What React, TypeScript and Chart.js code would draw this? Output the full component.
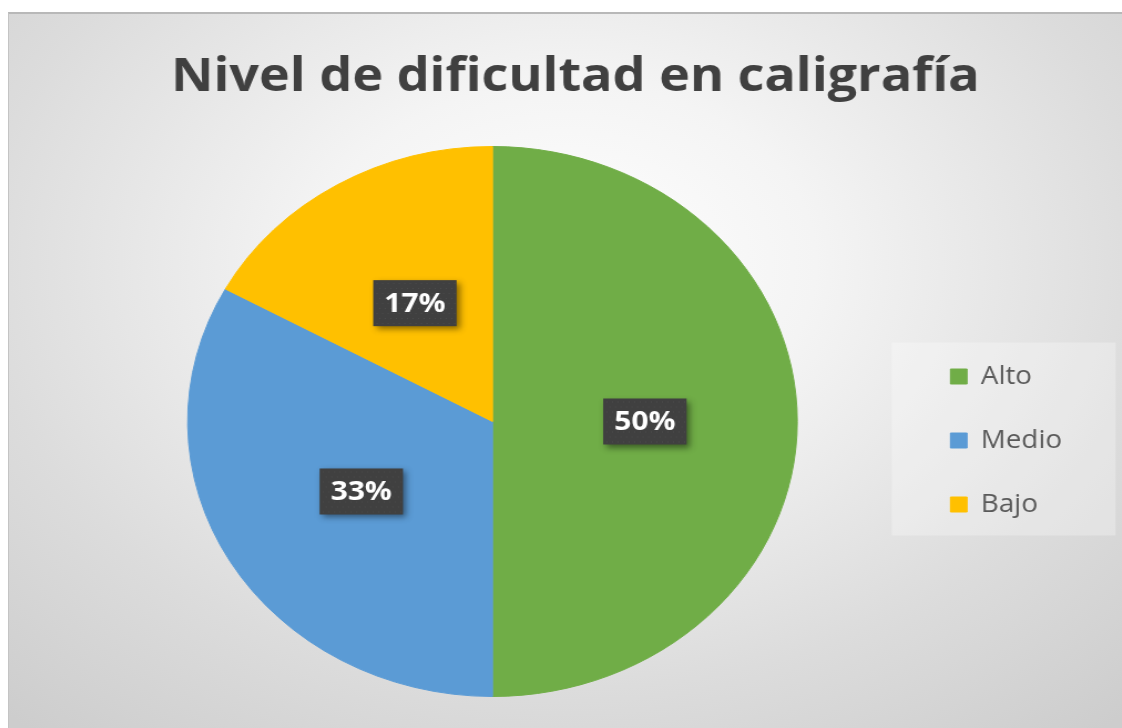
import React, { useEffect, useRef } from "react";
import { Chart, registerables } from "chart.js";

Chart.register(...registerables);

const titleText = "Nivel de dificultad en caligrafía";
const categories = ["Alto", "Medio", "Bajo"];
const values = [50, 33, 17];
const colors = ["#70AD47", "#5B9BD5", "#FFC000"];

const CANVAS_W = 1005;
const CANVAS_H = 716;
const PANEL_W = 1114;
const FONT = "'Open Sans', 'Noto Sans', sans-serif";

const legendBoxPlugin = {
  id: "legendBox",
  beforeDraw(chart: any) {
    const lg = chart.legend;
    if (!lg || !lg.legendHitBoxes || !lg.legendHitBoxes.length) return;
    const hb = lg.legendHitBoxes;
    const first = hb[0];
    const last = hb[hb.length - 1];
    const c0 = first.top + first.height / 2;
    const c2 = last.top + last.height / 2;
    const left = first.left - 53;
    const top = c0 - 34;
    const bottom = c2 + 31;
    const ctx = chart.ctx;
    ctx.save();
    ctx.fillStyle = "rgba(255,255,255,0.28)";
    ctx.fillRect(left, top, 202, bottom - top);
    ctx.restore();
  },
};

const labelPlugin = {
  id: "boxLabels",
  afterDatasetsDraw(chart: any) {
    const ctx = chart.ctx;
    const meta = chart.getDatasetMeta(0);
    const ds = chart.data.datasets[0];
    ctx.save();
    ctx.font = `bold 27px ${FONT}`;
    meta.data.forEach((arc: any, i: number) => {
      const p = arc.tooltipPosition();
      const text = ds.data[i] + "%";
      const w = ctx.measureText(text).width + 20;
      const h = 46;
      const x0 = p.x - w / 2;
      const y0 = p.y - h / 2;
      ctx.shadowColor = "rgba(0,0,0,0.45)";
      ctx.shadowBlur = 6;
      ctx.shadowOffsetX = 3;
      ctx.shadowOffsetY = 3;
      ctx.fillStyle = "#404040";
      ctx.fillRect(x0, y0, w, h);
      ctx.shadowColor = "transparent";
      ctx.fillStyle = "rgba(90,90,90,0.6)";
      for (let yy = y0 + 3; yy < y0 + h - 1; yy += 5) {
        for (let xx = x0 + 3 + ((yy - y0) % 10 === 3 ? 0 : 2.5); xx < x0 + w - 1; xx += 5) {
          ctx.fillRect(xx, yy, 1, 1);
        }
      }
      ctx.fillStyle = "#ffffff";
      ctx.textAlign = "center";
      ctx.textBaseline = "middle";
      ctx.fillText(text, p.x, p.y + 1);
    });
    ctx.restore();
  },
};

export default function App() {
  const ref = useRef<HTMLCanvasElement | null>(null);
  useEffect(() => {
    if (!ref.current) return;
    const chart = new Chart(ref.current, {
      type: "pie",
      data: {
        labels: categories,
        datasets: [
          {
            data: values,
            backgroundColor: colors,
            borderColor: colors,
            borderWidth: 1,
          },
        ],
      },
      options: {
        responsive: false,
        animation: false,
        devicePixelRatio: 1,
        layout: { padding: { left: 62, right: 45, top: 0, bottom: 31 } },
        plugins: {
          title: {
            display: true,
            text: titleText,
            color: "#404040",
            font: { family: FONT, size: 47, weight: "bold", lineHeight: 1.2 },
            padding: { top: 37, bottom: 40.6 },
          },
          legend: {
            position: "right",
            align: "center",
            title: {
              display: true,
              text: " ",
              font: { family: FONT, size: 20, lineHeight: 1.2 },
              padding: { top: 0, bottom: 148 },
            },
            labels: {
              boxWidth: 15,
              boxHeight: 15,
              padding: 39,
              color: "#595959",
              font: { family: FONT, size: 25 },
            },
          },
          tooltip: { enabled: false },
        },
      },
      plugins: [legendBoxPlugin, labelPlugin],
    } as any);
    return () => chart.destroy();
  }, []);

  return (
    <div
      style={{
        position: "fixed",
        left: 8,
        top: 12,
        width: PANEL_W,
        height: CANVAS_H,
        overflow: "hidden",
        borderTop: "2px solid #b8b8b8",
        borderLeft: "1px solid #c4c4c4",
        boxSizing: "border-box",
        background:
          "radial-gradient(ellipse 75% 85% at 50% 35%, #ffffff 0%, #f4f4f4 30%, #dcdcdc 70%, #cdcdcd 100%)",
      }}
    >
      <div
        style={{
          position: "absolute",
          left: 0,
          top: -2,
          width: CANVAS_W,
          height: CANVAS_H,
          transform: `scaleX(${PANEL_W / CANVAS_W})`,
          transformOrigin: "0 0",
        }}
      >
        <canvas ref={ref} width={CANVAS_W} height={CANVAS_H} />
      </div>
    </div>
  );
}
